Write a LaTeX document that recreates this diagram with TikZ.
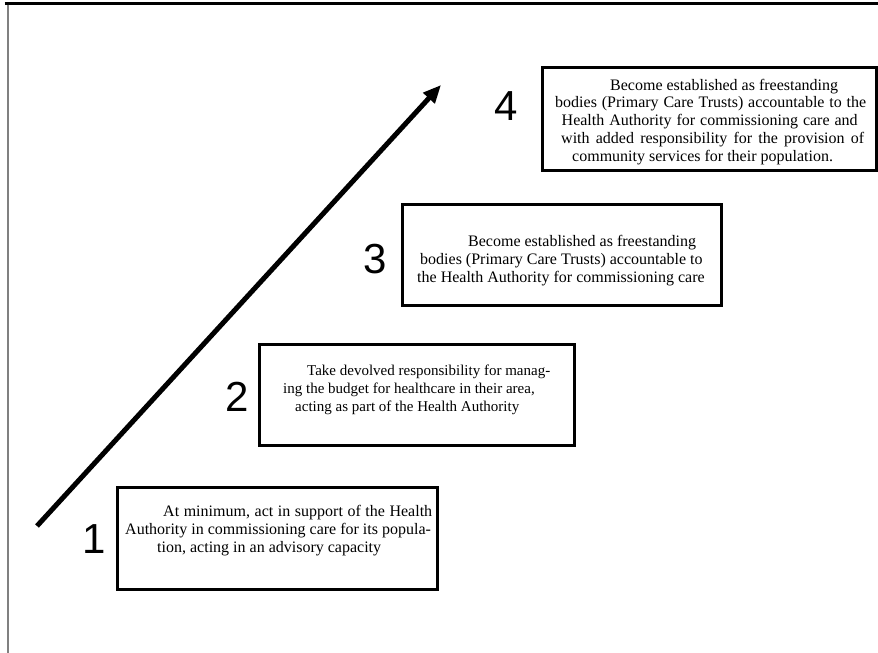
\documentclass[tikz,border=0pt]{standalone}
\usepackage{fontspec}
\setmainfont{Liberation Serif}
\newfontfamily\digitfont{Liberation Sans}
\usetikzlibrary{arrows.meta}
\tikzset{
  stagebox/.style={draw=black, line width=3pt, inner sep=0pt, fill=white},
  stagenum/.style={font=\digitfont\fontsize{42}{50}\selectfont, anchor=base, inner sep=0pt},
  bodyline/.style={font=\fontsize{16}{18}\selectfont, anchor=base west, inner sep=0pt},
  smallline/.style={font=\fontsize{15}{18}\selectfont, anchor=base west, inner sep=0pt},
}
% a line of text spread out to a given width
\newcommand\spreadline[2]{\makebox[#1][s]{#2}}

\begin{document}
\begin{tikzpicture}[x=1pt,y=-1pt]
\useasboundingbox (0,0) rectangle (878,653);

% page frame
\draw[line width=3pt] (4.5,3) -- (878,3);
\draw[gray, line width=1.5pt] (8,4.5) -- (8,653);

% rising arrow
\coordinate (tail) at (37,526);
\coordinate (head) at (441,85);
\draw[line width=5pt, -{Triangle[length=18pt,width=15pt]}] (tail) -- (head);

% stage boxes
\node[stagebox, minimum width=334.5pt, minimum height=103pt] (box4) at (709.25,118.5) {};
\node[stagebox, minimum width=319pt, minimum height=101pt] (box3) at (561.5,254.5) {};
\node[stagebox, minimum width=315pt, minimum height=101pt] (box2) at (416.5,394.5) {};
\node[stagebox, minimum width=320pt, minimum height=102pt] (box1) at (277,538) {};

% stage numbers
\node[stagenum] (n4) at (506,120) {4};
\node[stagenum] (n3) at (375.5,273) {3};
\node[stagenum] (n2) at (237,411) {2};
\node[stagenum] (n1) at (94,553) {1};

% stage 4 text
\node[bodyline] (t4a) at (610,90) {Become established as freestanding};
\node[bodyline] (t4b) at (555,107.8) {\spreadline{311pt}{bodies (Primary Care Trusts) accountable to the}};
\node[bodyline] (t4c) at (561.5,125.6) {\spreadline{296pt}{Health Authority for commissioning care and}};
\node[bodyline] (t4d) at (561,143.4) {\spreadline{303pt}{with added responsibility for the provision of}};
\node[bodyline] (t4e) at (572,161.2) {community services for their population.};

% stage 3 text
\node[bodyline] (t3a) at (468,246) {Become established as freestanding};
\node[bodyline] (t3b) at (420,264) {bodies (Primary Care Trusts) accountable to};
\node[bodyline] (t3c) at (417,282) {the Health Authority for commissioning care};

% stage 2 text
\node[smallline] (t2a) at (307,375) {Take devolved responsibility for manag-};
\node[smallline] (t2b) at (283,393) {ing the budget for healthcare in their area,};
\node[smallline] (t2c) at (295,411) {acting as part of the Health Authority};

% stage 1 text
\node[bodyline] (t1a) at (163,516) {\spreadline{269pt}{At minimum, act in support of the Health}};
\node[bodyline] (t1b) at (125,534) {Authority in commissioning care for its popula-};
\node[bodyline] (t1c) at (157,552) {tion, acting in an advisory capacity};
\end{tikzpicture}
\end{document}
